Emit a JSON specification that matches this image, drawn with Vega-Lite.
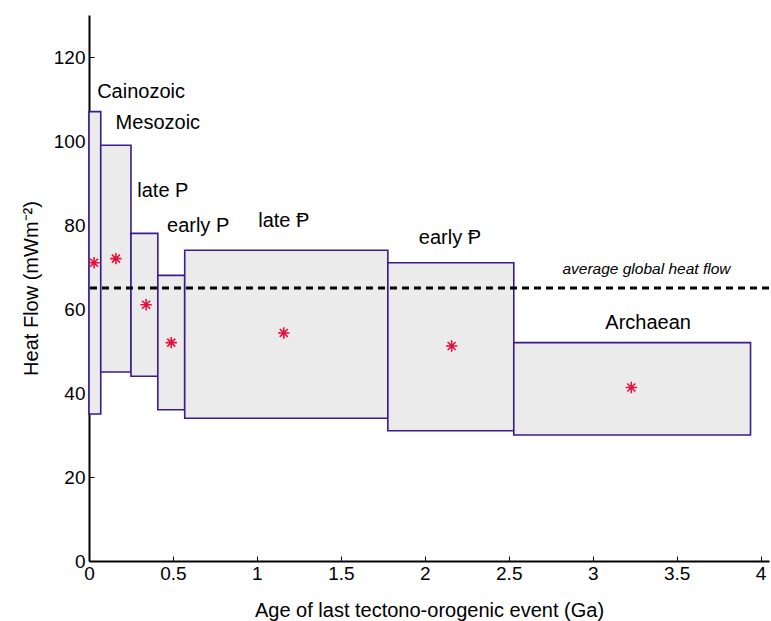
{
  "$schema": "https://vega.github.io/schema/vega-lite/v6.json",
  "width": 680,
  "height": 546,
  "autosize": {"type": "none"},
  "padding": {"left": 89, "top": 15, "right": 2, "bottom": 60},
  "background": "white",
  "config": {
    "view": {"stroke": null},
    "font": "Liberation Sans",
    "axis": {"grid": false, "domainColor": "black", "domainWidth": 2, "tickColor": "black", "tickWidth": 1, "labelColor": "black", "titleColor": "black", "labelFont": "Liberation Sans", "titleFont": "Liberation Sans", "labelFontSize": 19, "titleFontSize": 20, "titleFontWeight": "normal"}
  },
  "datasets": {
    "boxes": [
      {"era": "Cainozoic", "x1": 0, "x2": 0.07, "y1": 35, "y2": 107},
      {"era": "Mesozoic", "x1": 0.07, "x2": 0.25, "y1": 45, "y2": 99},
      {"era": "late Palaeozoic", "x1": 0.25, "x2": 0.41, "y1": 44, "y2": 78},
      {"era": "early Palaeozoic", "x1": 0.41, "x2": 0.57, "y1": 36, "y2": 68},
      {"era": "late Proterozoic", "x1": 0.57, "x2": 1.78, "y1": 34, "y2": 74},
      {"era": "early Proterozoic", "x1": 1.78, "x2": 2.53, "y1": 31, "y2": 71},
      {"era": "Archaean", "x1": 2.53, "x2": 3.94, "y1": 30, "y2": 52}
    ],
    "means": [
      {"age": 0.03, "hf": 71},
      {"age": 0.16, "hf": 72},
      {"age": 0.34, "hf": 61},
      {"age": 0.49, "hf": 52},
      {"age": 1.16, "hf": 54.3},
      {"age": 2.16, "hf": 51.2},
      {"age": 3.23, "hf": 41.3}
    ],
    "labels": [
      {"text": "Cainozoic", "x": 0.31, "y": 111.7},
      {"text": "Mesozoic", "x": 0.41, "y": 104.3},
      {"text": "late P", "x": 0.44, "y": 88},
      {"text": "early P", "x": 0.65, "y": 79.8},
      {"text": "late Ᵽ", "x": 1.16, "y": 81},
      {"text": "early Ᵽ", "x": 2.15, "y": 77},
      {"text": "Archaean", "x": 3.33, "y": 56.7}
    ],
    "avg": [{"hf": 65, "text": "average global heat flow", "x": 3.32, "ty": 69.5}]
  },
  "layer": [
    {
      "data": {"name": "boxes"},
      "mark": {"type": "rect", "fill": "#ebebeb", "stroke": "#3d1a8c", "strokeWidth": 1.6},
      "encoding": {
        "x": {"field": "x1", "type": "quantitative", "scale": {"domain": [0, 4.05], "nice": false, "zero": false}, "axis": {"values": [0, 0.5, 1, 1.5, 2, 2.5, 3, 3.5, 4], "format": "~g", "tickSize": -5, "labelPadding": 8, "labelFlush": false, "title": "Age of last tectono-orogenic event (Ga)", "titlePadding": 17}},
        "x2": {"field": "x2"},
        "y": {"field": "y1", "type": "quantitative", "scale": {"domain": [0, 130], "nice": false}, "axis": {"values": [0, 20, 40, 60, 80, 100, 120], "tickSize": -5, "labelPadding": 9, "labelFlush": false, "title": "Heat Flow (mWm⁻²)", "titlePadding": 12}},
        "y2": {"field": "y2"}
      }
    },
    {
      "data": {"name": "avg"},
      "mark": {"type": "rule", "color": "black", "strokeWidth": 3, "strokeDash": [7, 5]},
      "encoding": {"y": {"field": "hf", "type": "quantitative"}}
    },
    {
      "data": {"name": "avg"},
      "mark": {"type": "text", "fontStyle": "italic", "fontSize": 15.5, "align": "center", "baseline": "middle"},
      "encoding": {"x": {"field": "x", "type": "quantitative"}, "y": {"field": "ty", "type": "quantitative"}, "text": {"field": "text"}}
    },
    {
      "data": {"name": "means"},
      "mark": {"type": "point", "shape": "M0,-1L0,1M-1,0L1,0M-0.7,-0.7L0.7,0.7M-0.7,0.7L0.7,-0.7", "stroke": "#e8103a", "strokeWidth": 1.6, "size": 130, "filled": false, "opacity": 1},
      "encoding": {"x": {"field": "age", "type": "quantitative"}, "y": {"field": "hf", "type": "quantitative"}}
    },
    {
      "data": {"name": "labels"},
      "mark": {"type": "text", "fontSize": 20, "align": "center", "baseline": "middle", "color": "black"},
      "encoding": {"x": {"field": "x", "type": "quantitative"}, "y": {"field": "y", "type": "quantitative"}, "text": {"field": "text"}}
    }
  ]
}
